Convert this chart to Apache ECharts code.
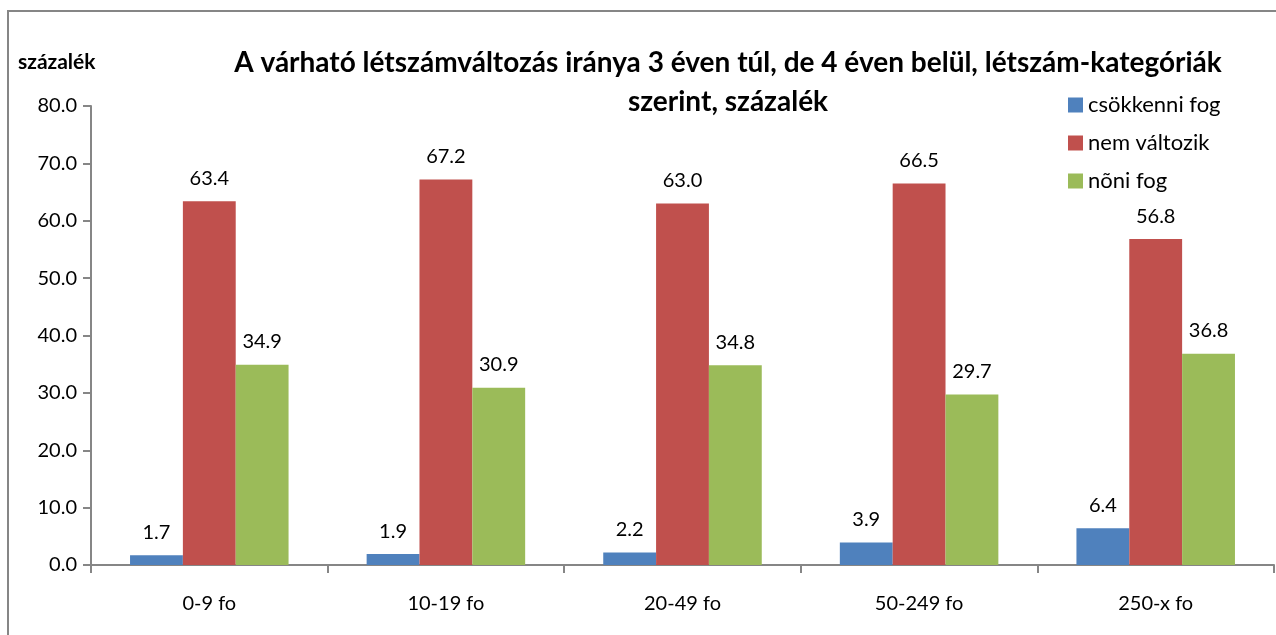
<!DOCTYPE html>
<html lang="hu">
<head>
    <meta charset="UTF-8">
    <title>Létszámváltozás iránya</title>
    <script src="https://cdn.jsdelivr.net/npm/echarts@6/dist/echarts.min.js"></script>
    <style>
        html, body { margin: 0; padding: 0; background: #fff; }
        #chart { width: 1276px; height: 635px; }
    </style>
</head>
<body>
    <div id="chart"></div>
    <script>
        // data
        var categories = ['0-9 fo', '10-19 fo', '20-49 fo', '50-249 fo', '250-x fo'];
        var seriesNames = ['csökkenni fog', 'nem változik', 'nõni fog'];
        var csokken = [1.7, 1.9, 2.2, 3.9, 6.4];
        var nemValtozik = [63.4, 67.2, 63.0, 66.5, 56.8];
        var no = [34.9, 30.9, 34.8, 29.7, 36.8];
        var colors = ['#4F81BD', '#C0504D', '#9BBB59'];

        var font = 'Lato, "Open Sans", sans-serif';
        var chart = echarts.init(document.getElementById('chart'));

        function bar(name, data, color) {
            return {
                name: name,
                type: 'bar',
                data: data,
                barCategoryGap: '33%',
                barGap: '0%',
                itemStyle: { color: color },
                label: {
                    show: true,
                    position: 'top',
                    distance: 13,
                    color: '#000',
                    fontFamily: font,
                    fontSize: 20,
                    formatter: function (p) { return p.value.toFixed(1); }
                }
            };
        }

        var option = {
            animation: false,
            color: colors,
            title: {
                text: 'A várható létszámváltozás iránya 3 éven túl, de 4 éven belül, létszám-kategóriák\nszerint, százalék',
                left: 723,
                textAlign: 'center',
                top: 38,
                textStyle: {
                    fontFamily: font,
                    fontWeight: 'bold',
                    fontSize: 28,
                    lineHeight: 39,
                    color: '#000'
                }
            },
            legend: {
                orient: 'vertical',
                left: 1063,
                top: 89,
                itemWidth: 15,
                itemHeight: 15,
                itemGap: 16,
                icon: 'rect',
                textStyle: { fontFamily: font, fontSize: 22, color: '#000' },
                data: seriesNames
            },
            grid: { left: 91, right: 2, top: 106, bottom: 70 },
            xAxis: {
                type: 'category',
                data: categories,
                axisLine: { lineStyle: { color: '#868686', width: 2 } },
                axisTick: { show: true, length: 8, lineStyle: { color: '#868686', width: 2 } },
                axisLabel: { color: '#000', fontFamily: font, fontSize: 20, margin: 29 }
            },
            yAxis: {
                type: 'value',
                min: 0,
                max: 80,
                interval: 10,
                name: 'százalék',
                nameLocation: 'end',
                nameGap: 33,
                nameTextStyle: {
                    fontFamily: font, fontWeight: 'bold', fontSize: 21, color: '#000',
                    align: 'left', padding: [0, 0, 0, -73]
                },
                splitLine: { show: false },
                axisLine: { show: true, lineStyle: { color: '#868686', width: 2 } },
                axisTick: { show: true, length: 8, lineStyle: { color: '#868686', width: 2 } },
                axisLabel: {
                    color: '#000', fontFamily: font, fontSize: 20, margin: 14,
                    formatter: function (v) { return v.toFixed(1); }
                }
            },
            graphic: [{
                type: 'rect',
                shape: { x: 8, y: 11, width: 1290, height: 640 },
                style: { fill: 'none', stroke: '#868686', lineWidth: 2 },
                silent: true
            }],
            series: [
                bar(seriesNames[0], csokken, colors[0]),
                bar(seriesNames[1], nemValtozik, colors[1]),
                bar(seriesNames[2], no, colors[2])
            ]
        };

        chart.setOption(option);
    </script>
</body>
</html>
